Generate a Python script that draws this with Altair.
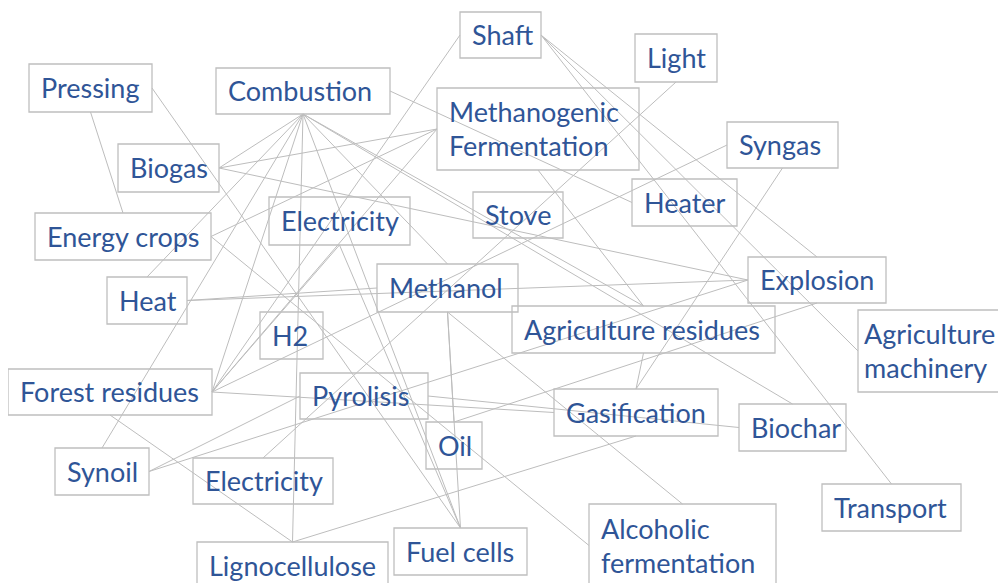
import altair as alt
import pandas as pd

# ---- nodes (boxes in page pixel coordinates) ----
node_id = ["Shaft", "Light", "Pressing", "Combustion", "MethFerm", "Syngas", "Biogas",
           "Heater", "Stove", "Elec1", "EnergyCrops", "Explosion", "Heat", "Methanol",
           "AgriRes", "AgriMach", "H2", "ForestRes", "Pyrolisis", "Gasification",
           "Biochar", "Oil", "Synoil", "Elec2", "Transport", "AlcFerm", "Ligno", "FuelCells"]
node_label = ["Shaft", "Light", "Pressing", "Combustion", "Methanogenic\nFermentation", "Syngas", "Biogas",
              "Heater", "Stove", "Electricity", "Energy crops", "Explosion", "Heat", "Methanol",
              "Agriculture residues", "Agriculture\nmachinery", "H2", "Forest residues", "Pyrolisis", "Gasification",
              "Biochar", "Oil", "Synoil", "Electricity", "Transport", "Alcoholic\nfermentation", "Lignocellulose", "Fuel cells"]
box_x0 = [460, 635, 29, 216, 437, 727, 118, 632, 473, 269, 35, 748, 107, 377,
          512, 858, 260, 8, 300, 554, 739, 426, 55, 193, 822, 589, 197, 394]
box_x1 = [541, 717, 152, 390, 639, 838, 219, 737, 563, 410, 211, 886, 187, 518,
          775, 1010, 323, 212, 428, 718, 846, 482, 149, 333, 961, 776, 388, 527]
box_y0 = [12, 34, 64, 68, 88, 122, 144, 179, 192, 197, 213, 257, 277, 264,
          306, 310, 312, 369, 373, 389, 404, 422, 448, 458, 484, 504, 542, 528]
box_y1 = [58, 82, 112, 114, 170, 168, 192, 226, 238, 245, 260, 303, 324, 312,
          353, 392, 359, 415, 419, 436, 451, 469, 495, 504, 531, 587, 590, 575]
# label inset from the left edge of each box (the right-most box has a tighter inset so its text stays visible)
label_inset = [12, 12, 12, 12, 12, 12, 12, 12, 12, 12, 12, 12, 12, 12,
               12, 6, 12, 12, 12, 12, 12, 12, 12, 12, 12, 12, 12, 12]

# ---- connections: (node, side) -> (node, side); side T/B/L/R ----
edge_a = ["Pressing:B", "Pressing:R", "Combustion:B", "Combustion:B", "Combustion:B", "Combustion:B",
          "Combustion:B", "Combustion:B", "Combustion:B", "Combustion:B", "Combustion:B", "Combustion:R",
          "Biogas:R", "Biogas:R", "EnergyCrops:R", "EnergyCrops:R", "Heat:R", "Heat:R",
          "ForestRes:R", "ForestRes:R", "ForestRes:R", "ForestRes:R", "ForestRes:R", "ForestRes:B",
          "Shaft:R", "Shaft:R", "Shaft:R", "Light:B", "Syngas:B", "MethFerm:B",
          "Methanol:B", "Methanol:B", "Methanol:B", "Elec1:B", "Synoil:R", "Synoil:R",
          "Pyrolisis:R", "AgriRes:B", "Gasification:B", "Oil:T"]
edge_b = ["EnergyCrops:T", "FuelCells:T", "Biogas:R", "Heat:T", "Synoil:T", "ForestRes:R",
          "Ligno:T", "FuelCells:T", "Methanol:T", "AgriRes:T", "Biochar:T", "Heater:L",
          "MethFerm:L", "Explosion:L", "MethFerm:L", "AlcFerm:L", "Methanol:L", "Explosion:L",
          "MethFerm:L", "Shaft:L", "Elec1:B", "Syngas:L", "Gasification:L", "Ligno:T",
          "Explosion:T", "AgriMach:L", "Transport:T", "Elec2:T", "Gasification:T", "AgriRes:T",
          "Oil:T", "FuelCells:T", "AlcFerm:T", "FuelCells:T", "Pyrolisis:L", "Explosion:L",
          "Biochar:L", "Gasification:T", "Ligno:T", "Explosion:B"]

nodes = pd.DataFrame({"id": node_id, "label": node_label, "x0": box_x0, "x1": box_x1,
                      "y0": box_y0, "y1": box_y1, "inset": label_inset})
nodes["cy"] = (nodes["y0"] + nodes["y1"]) / 2
nodes["nlines"] = nodes["label"].str.count("\n") + 1
nodes["ty"] = nodes["cy"] + 2 - (nodes["nlines"] - 1) * 17
nodes["tx"] = nodes["x0"] + nodes["inset"]
idx = {n: i for i, n in enumerate(node_id)}


def anchor(spec):
    n, s = spec.split(":")
    i = idx[n]
    cx = (box_x0[i] + box_x1[i]) / 2
    cy = (box_y0[i] + box_y1[i]) / 2
    return {"T": (cx, box_y0[i]), "B": (cx, box_y1[i]),
            "L": (box_x0[i], cy), "R": (box_x1[i], cy)}[s]


rows = []
for a, b in zip(edge_a, edge_b):
    (ax, ay), (bx, by) = anchor(a), anchor(b)
    rows.append({"x": ax, "y": ay, "x2": bx, "y2": by})
edges = pd.DataFrame(rows)

X = alt.Scale(domain=[8, 998])
Y = alt.Scale(domain=[8, 583], reverse=True)

lines = alt.Chart(edges).mark_rule(color="#BDBDBD", strokeWidth=1).encode(
    x=alt.X("x:Q", scale=X, axis=None),
    y=alt.Y("y:Q", scale=Y, axis=None),
    x2="x2:Q", y2="y2:Q")

boxes = alt.Chart(nodes).mark_rect(fillOpacity=0, stroke="#BFBFBF", strokeWidth=1.3).encode(
    x=alt.X("x0:Q", scale=X, axis=None),
    x2="x1:Q",
    y=alt.Y("y0:Q", scale=Y, axis=None),
    y2="y1:Q")

texts = alt.Chart(nodes).mark_text(align="left", baseline="middle", font="Lato", fontSize=27,
                                   color="#2F5597", lineBreak="\n", lineHeight=34).encode(
    x=alt.X("tx:Q", scale=X, axis=None),
    y=alt.Y("ty:Q", scale=Y, axis=None),
    text="label:N")

chart = alt.layer(lines, boxes, texts).properties(
    width=990, height=575, padding=0, autosize=alt.AutoSizeParams(type="none"),
    background="white").configure_view(stroke=None)

chart.save("out.html", embed_options={"renderer": "svg", "actions": False})
